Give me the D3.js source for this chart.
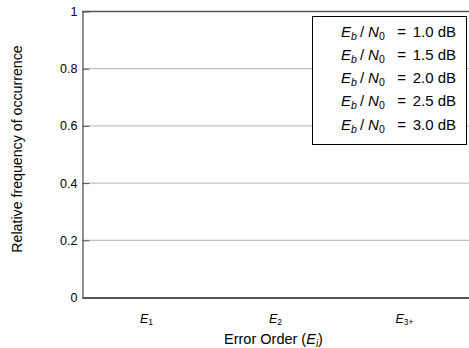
<!DOCTYPE html>
<html>
<head>
<meta charset="utf-8">
<script src="https://d3js.org/d3.v7.min.js"></script>
<style>
  body { margin: 0; background: #fff; }
  svg text { font-family: "Liberation Sans", Arial, sans-serif; fill: #000; }
</style>
</head>
<body>
<div id="chart"></div>
<script>
// data
var categories = ["1", "2", "3+"];
var snrLevels = ["1.0", "1.5", "2.0", "2.5", "3.0"];
// relative frequency per error order, one array per Eb/N0 (all bars are empty in the figure)
var freq10 = [0, 0, 0];
var freq15 = [0, 0, 0];
var freq20 = [0, 0, 0];
var freq25 = [0, 0, 0];
var freq30 = [0, 0, 0];
var yTicks = [0, 0.2, 0.4, 0.6, 0.8, 1];

var series = [freq10, freq15, freq20, freq25, freq30];

var w = 469, h = 348;
var m = {top: 11, right: 0, bottom: 51, left: 82};

var svg = d3.select("#chart").append("svg")
  .attr("width", w).attr("height", h);

var x = d3.scaleBand().domain(categories).range([m.left, w - m.right]);
var xs = d3.scaleBand().domain(snrLevels).range([0, x.bandwidth()]).paddingInner(0.1).paddingOuter(0.6);
var y = d3.scaleLinear().domain([0, 1]).range([h - m.bottom, m.top]);

// grid
svg.append("g").selectAll("line")
  .data(yTicks.filter(function (d) { return d > 0 && d < 1; }))
  .enter().append("line")
  .attr("x1", m.left).attr("x2", w - m.right)
  .attr("y1", function (d) { return y(d) + 0.5; })
  .attr("y2", function (d) { return y(d) + 0.5; })
  .attr("stroke", "#b3b3b3").attr("stroke-width", 1);

// bars
var grays = ["#222", "#555", "#888", "#aaa", "#ddd"];
series.forEach(function (vals, i) {
  svg.append("g").selectAll("rect")
    .data(vals).enter().append("rect")
    .attr("x", function (d, j) { return x(categories[j]) + xs(snrLevels[i]); })
    .attr("width", xs.bandwidth())
    .attr("y", function (d) { return y(d); })
    .attr("height", function (d) { return y(0) - y(d); })
    .attr("fill", grays[i]);
});

// y axis
var yAxis = svg.append("g")
  .attr("transform", "translate(" + (m.left + 0.5) + ",0.5)")
  .call(d3.axisLeft(y).tickValues(yTicks).tickSizeInner(-7).tickSizeOuter(0).tickPadding(6)
    .tickFormat(d3.format("~g")));
yAxis.select(".domain").attr("stroke", "#555").attr("stroke-width", 1.3);
yAxis.selectAll(".tick line").attr("stroke", "#555");
yAxis.selectAll("text").style("font-size", "12.5px").attr("x", -5);

// top frame line
svg.append("line")
  .attr("x1", m.left).attr("x2", w - m.right)
  .attr("y1", m.top + 0.5).attr("y2", m.top + 0.5)
  .attr("stroke", "#555").attr("stroke-width", 1.3);

// bottom axis
var xAxis = svg.append("g")
  .attr("transform", "translate(0," + (y(0) + 0.5) + ")")
  .call(d3.axisBottom(x).tickSize(0).tickPadding(0).tickFormat(""));
xAxis.select(".domain").attr("stroke", "#555").attr("stroke-width", 1.8);

var xl = svg.append("g").selectAll("text").data(categories).enter().append("text")
  .attr("x", function (d) { return x(d) + x.bandwidth() / 2; })
  .attr("y", y(0) + 26)
  .attr("text-anchor", "middle")
  .style("font-size", "12.5px");
xl.append("tspan").style("font-style", "italic").text("E");
xl.append("tspan").attr("baseline-shift", "-25%").style("font-size", "8.5px")
  .text(function (d) { return d; });

// axis titles
var xt = svg.append("text")
  .attr("x", m.left + (w - m.left - m.right) / 2 - 2).attr("y", 344)
  .attr("text-anchor", "middle").style("font-size", "14.5px");
xt.append("tspan").text("Error Order (");
xt.append("tspan").style("font-style", "italic").text("E");
xt.append("tspan").attr("baseline-shift", "-25%").style("font-size", "10px").style("font-style", "italic").text("i");
xt.append("tspan").text(")");

svg.append("text")
  .attr("transform", "translate(22,149) rotate(-90)")
  .attr("text-anchor", "middle").style("font-size", "14.2px")
  .text("Relative frequency of occurrence");

// legend
var lg = svg.append("g");
lg.append("rect")
  .attr("x", 312.5).attr("y", 16.5).attr("width", 154).attr("height", 128)
  .attr("fill", "#fff").attr("stroke", "#000").attr("stroke-width", 1);
var lt = lg.selectAll("text").data(snrLevels).enter().append("text")
  .attr("x", 456).attr("y", function (d, i) { return 36.5 + i * 23.3; })
  .attr("text-anchor", "end").style("font-size", "15px");
lt.append("tspan").style("font-style", "italic").text("E");
lt.append("tspan").style("font-style", "italic").style("font-size", "10.5px").attr("baseline-shift", "-25%").text("b");
lt.append("tspan").attr("class", "sl").text("/");
lt.append("tspan").attr("class", "nn").style("font-style", "italic").text("N");
lt.append("tspan").style("font-size", "10.5px").attr("baseline-shift", "-25%").text("0");
lt.append("tspan").attr("class", "eq").text("=");
lt.append("tspan").attr("class", "num").text(function (d) { return d + " dB"; });
// math-style spacing: widen the gaps so each entry spans as wide as the reference
lt.each(function () {
  var el = d3.select(this);
  var extra = Math.max(0, 115 - this.getComputedTextLength());
  el.select(".sl").attr("dx", extra * 0.12);
  el.select(".nn").attr("dx", extra * 0.15);
  el.select(".eq").attr("dx", extra * 0.48);
  el.select(".num").attr("dx", extra * 0.25);
});
</script>
</body>
</html>
